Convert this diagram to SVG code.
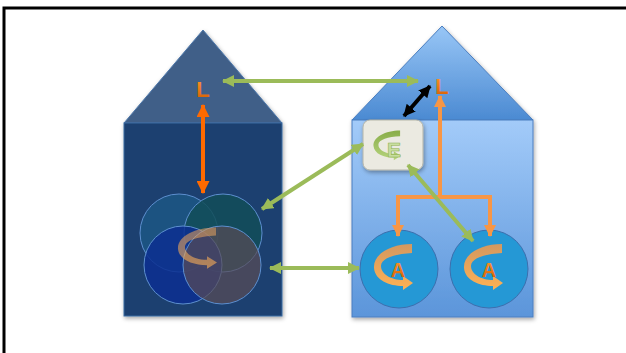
<svg xmlns="http://www.w3.org/2000/svg" width="626" height="353" viewBox="0 0 626 353">
<defs>
<style>
.lbl{font-family:"Liberation Sans",Arial,sans-serif;font-weight:bold;text-anchor:middle}
.grn{stroke:#9bbb59;stroke-width:4;fill:none}
.org{stroke:#f79646;stroke-width:4;fill:none}
.cir{stroke:#5d8fcf;stroke-width:1}
.acir{fill:#2598d5;stroke:#3c6fae;stroke-width:1}
</style>
<linearGradient id="roofR" x1="0" y1="0" x2="0" y2="1"><stop offset="0" stop-color="#98c6f6"/><stop offset="1" stop-color="#4b8ad2"/></linearGradient>
<linearGradient id="bodyR" x1="0" y1="0" x2="0" y2="1"><stop offset="0" stop-color="#a3cbf9"/><stop offset="1" stop-color="#5b95da"/></linearGradient>
<linearGradient id="txtO" x1="0" y1="0" x2="0" y2="1"><stop offset="0" stop-color="#ff9a2a"/><stop offset="1" stop-color="#d45a00"/></linearGradient>
<linearGradient id="ribO" x1="0" y1="0" x2="0" y2="1"><stop offset="0" stop-color="#d49860"/><stop offset="1" stop-color="#ffb154"/></linearGradient>
<linearGradient id="ribG" x1="0" y1="0" x2="0" y2="1"><stop offset="0" stop-color="#88ad48"/><stop offset="1" stop-color="#b6d47e"/></linearGradient>
<filter id="sh" x="-20%" y="-20%" width="140%" height="140%"><feDropShadow dx="1" dy="2" stdDeviation="2" flood-opacity="0.35"/></filter>
<marker id="mG" viewBox="0 0 12 12" refX="11" refY="6" markerWidth="12" markerHeight="12" markerUnits="userSpaceOnUse" orient="auto-start-reverse"><path d="M0,0 L12,6 L0,12 z" fill="#9bbb59"/></marker>
<marker id="mO" viewBox="0 0 12 12" refX="11" refY="6" markerWidth="12" markerHeight="12" markerUnits="userSpaceOnUse" orient="auto-start-reverse"><path d="M0,0 L12,6 L0,12 z" fill="#f79646"/></marker>
<marker id="mR" viewBox="0 0 12 12" refX="11" refY="6" markerWidth="13" markerHeight="13" markerUnits="userSpaceOnUse" orient="auto-start-reverse"><path d="M0,0 L12,6 L0,12 z" fill="#ff6a00"/></marker>
<marker id="mK" viewBox="0 0 12 12" refX="11" refY="6" markerWidth="12" markerHeight="12" markerUnits="userSpaceOnUse" orient="auto-start-reverse"><path d="M0,0 L12,6 L0,12 z" fill="#000"/></marker>
<path id="rib" d="M13,-24 C-8,-24 -26,-14 -25,0 C-24,12 -10,18 4,18 L4,22 L14,15 L4,8 L4,12 C-8,12 -18,6 -18,-2 C-18,-10 -4,-14 13,-15 Z"/>
</defs>
<rect x="0" y="0" width="626" height="353" fill="#fff"/>
<rect x="4" y="8" width="700" height="400" fill="none" stroke="#000" stroke-width="3"/>

<g id="house-left" filter="url(#sh)">
<polygon points="203,30 124,123 282,123" fill="#3f5f88" stroke="#4e78ab" stroke-width="1"/>
<rect x="124" y="123" width="158" height="193" fill="#1e4070" stroke="#3a68a0" stroke-width="1"/>
</g>
<g id="house-right" filter="url(#sh)">
<polygon points="442,26 352,120 533,120" fill="url(#roofR)" stroke="#4a7ec0" stroke-width="1"/>
<rect x="352" y="120" width="181" height="197" fill="url(#bodyR)" stroke="#4a7ec0" stroke-width="1"/>
</g>

<g id="cluster">
<circle class="cir" cx="179" cy="233" r="39" fill="#1d5583" fill-opacity="0.9"/>
<circle class="cir" cx="223" cy="233" r="39" fill="#124e58" fill-opacity="0.85"/>
<circle class="cir" cx="183" cy="265" r="39" fill="#0c2f90" fill-opacity="0.85"/>
<circle class="cir" cx="222" cy="265" r="39" fill="#5a4c55" fill-opacity="0.7"/>
<use href="#rib" transform="translate(203,249) scale(1,0.9)" fill="url(#ribO)" opacity="0.6"/>
</g>

<g id="L-left"><text class="lbl" x="203" y="97" font-size="22" fill="url(#txtO)">L</text></g>
<g id="L-right"><text class="lbl" x="442" y="94" font-size="22" fill="url(#txtO)">L</text></g>

<g id="E-box">
<rect x="363" y="120" width="60" height="50" rx="7" fill="#ebeae1" stroke="#b5b5a8" stroke-width="1" filter="url(#sh)"/>
<use href="#rib" transform="translate(391,146) scale(0.7,0.65)" fill="url(#ribG)"/>
<text class="lbl" x="394" y="157" font-size="21" fill="#c8dea0" stroke="#8fb04f" stroke-width="0.6">E</text>
</g>

<g id="A-left">
<circle class="acir" cx="399" cy="269" r="39"/>
<use href="#rib" transform="translate(399,268)" fill="url(#ribO)"/>
<text class="lbl" x="398" y="277" font-size="20" fill="url(#txtO)">A</text>
</g>
<g id="A-right">
<circle class="acir" cx="489" cy="269" r="39"/>
<use href="#rib" transform="translate(489,268)" fill="url(#ribO)"/>
<text class="lbl" x="489" y="277" font-size="20" fill="url(#txtO)">A</text>
</g>

<g id="connectors">
<line x1="223" y1="81" x2="418" y2="81" class="grn" marker-start="url(#mG)" marker-end="url(#mG)"/>
<line x1="203" y1="105" x2="203" y2="193" stroke="#ff6a00" stroke-width="4" marker-start="url(#mR)" marker-end="url(#mR)"/>
<line x1="430" y1="86" x2="404" y2="116" stroke="#000" stroke-width="4" marker-start="url(#mK)" marker-end="url(#mK)"/>
<line x1="363" y1="144" x2="262" y2="209" class="grn" marker-start="url(#mG)" marker-end="url(#mG)"/>
<line x1="270" y1="268" x2="359" y2="268" class="grn" marker-start="url(#mG)" marker-end="url(#mG)"/>
<line x1="440" y1="96" x2="440" y2="197" class="org" marker-start="url(#mO)"/>
<polyline points="398,236 398,197 490,197 490,236" class="org" marker-start="url(#mO)" marker-end="url(#mO)"/>
<line x1="408" y1="165" x2="473" y2="241" class="grn" marker-start="url(#mG)" marker-end="url(#mG)"/>
</g>
</svg>
